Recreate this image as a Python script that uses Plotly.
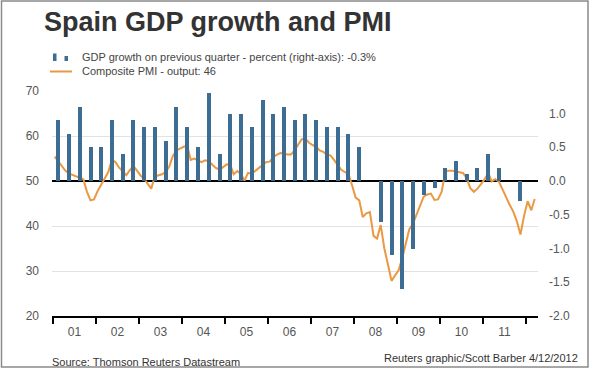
import pandas as pd
import plotly.graph_objects as go

# ---------------- data ----------------
# Quarterly GDP growth on previous quarter (%), 2001 Q1 .. 2011 Q4 (right axis)
gdp_growth = [
    0.9, 0.7, 1.1, 0.5,     # 2001
    0.5, 0.9, 0.4, 0.9,     # 2002
    0.8, 0.8, 0.6, 1.1,     # 2003
    0.8, 0.5, 1.3, 0.4,     # 2004
    1.0, 1.0, 0.8, 1.2,     # 2005
    1.0, 1.1, 0.9, 1.0,     # 2006
    0.9, 0.8, 0.8, 0.7,     # 2007
    0.5, 0.0, -0.6, -1.1,   # 2008
    -1.6, -1.0, -0.2, -0.1, # 2009
    0.2, 0.3, 0.1, 0.2,     # 2010
    0.4, 0.2, 0.0, -0.3,    # 2011
]

# Monthly composite PMI output, Jan 2001 .. Mar 2012 (left axis)
pmi = [
    55.4, 54.3, 53.4, 52.3, 51.7, 51.4, 51.1, 50.8, 50.4, 47.7, 45.7, 45.9,  # 2001
    47.8, 49.2, 50.6, 52.0, 54.7, 54.2, 53.0, 52.2, 51.3, 52.4, 53.3, 52.3,  # 2002
    51.2, 50.4, 49.3, 48.3, 51.0, 51.3, 51.5, 52.0, 53.2, 55.5, 56.8, 57.2,  # 2003
    57.6, 57.8, 54.7, 55.0, 54.6, 54.2, 54.6, 54.4, 53.6, 52.9, 52.5, 53.0,  # 2004
    53.7, 53.6, 51.5, 52.2, 51.6, 50.1, 51.8, 51.6, 52.3, 53.0, 53.6, 54.2,  # 2005
    54.3, 55.3, 55.8, 56.2, 56.1, 55.9, 55.9, 56.8, 58.1, 59.3, 59.4, 58.5,  # 2006
    58.0, 57.6, 56.8, 56.5, 55.8, 55.7, 54.7, 53.6, 52.5, 52.0, 51.5, 49.1,  # 2007
    46.3, 45.7, 42.0, 42.8, 43.1, 37.8, 37.2, 40.2, 35.0, 31.5, 27.8, 29.0,  # 2008
    30.2, 33.0, 36.3, 39.3, 40.5, 42.5, 44.8, 46.5, 47.0, 47.2, 45.8, 45.9,  # 2009
    47.6, 52.2, 52.3, 52.3, 52.1, 52.0, 51.8, 50.6, 48.4, 47.6, 48.3, 49.3,  # 2010
    50.4, 51.8, 49.9, 50.4, 49.9, 48.2, 46.3, 44.7, 43.2, 41.1, 38.1, 42.2,  # 2011
    45.5, 43.5, 46.0,                                                        # 2012
]

year_labels = ["01", "02", "03", "04", "05", "06", "07", "08", "09", "10", "11"]
left_ticks = [20, 30, 40, 50, 60, 70]
left_tick_labels = ["20", "30", "40", "50", "60", "70"]
right_ticks = [-2.0, -1.5, -1.0, -0.5, 0.0, 0.5, 1.0]
right_tick_labels = ["-2.0", "-1.5", "-1.0", "-0.5", "0.0", "0.5", "1.0"]

title_text = "Spain GDP growth and PMI"
gdp_name = "GDP growth on previous quarter - percent (right-axis): -0.3%"
pmi_name = "Composite PMI - output: 46"
source_text = "Source: Thomson Reuters Datastream"
credit_text = "Reuters graphic/Scott Barber 4/12/2012"

# ---------------- derived dates ----------------
quarter_dates = pd.date_range("2001-01-01", periods=len(gdp_growth), freq="QS") + pd.Timedelta(days=45)
month_dates = pd.date_range("2001-01-01", periods=len(pmi), freq="MS") + pd.Timedelta(days=14)
year_starts = pd.date_range("2001-01-01", periods=12, freq="YS")
year_mids = pd.date_range("2001-01-01", periods=len(year_labels), freq="YS") + pd.Timedelta(days=182)

# ---------------- layout geometry (pixels) ----------------
W, H = 590, 370
L, R, T, B = 52, 538, 91, 316


def xp(px):
    return (px - L) / (R - L)


def yp(py):
    return (B - py) / (B - T)


FONT = "Liberation Sans, Arial, sans-serif"
BAR_COLOR = "#3D6D92"
LINE_COLOR = "#EA9842"
TICK_COLOR = "#555555"

fig = go.Figure()

fig.add_trace(go.Bar(
    x=quarter_dates, y=gdp_growth, yaxis="y2", name=gdp_name,
    marker=dict(color=BAR_COLOR, line=dict(width=0)),
    width=34 * 86400000, showlegend=False,
))
fig.add_trace(go.Scatter(
    x=month_dates, y=pmi, yaxis="y", name=pmi_name, mode="lines",
    line=dict(color=LINE_COLOR, width=2), showlegend=False,
))

fig.update_layout(
    width=W, height=H,
    margin=dict(l=L, r=W - R, t=T, b=H - B, pad=0),
    paper_bgcolor="white", plot_bgcolor="white",
    font=dict(family=FONT, color=TICK_COLOR, size=12),
    showlegend=False,
    bargap=0,
    title=dict(
        text=title_text, xref="container", yref="container",
        x=44 / W, xanchor="left", y=1 - 22 / H, yanchor="middle",
        font=dict(family=FONT, size=27, color="#333333", weight="bold"),
    ),
    xaxis=dict(
        type="date",
        range=["2000-12-23", "2012-04-12"],
        tickmode="array", tickvals=year_mids, ticktext=year_labels,
        ticks="outside", ticklen=0, tickcolor="black",
        ticklabelstandoff=4,
        minor=dict(tickvals=year_starts, ticks="outside", ticklen=6,
                   tickwidth=1.5, tickcolor="black", showgrid=False),
        showgrid=False, zeroline=False,
        showline=True, linecolor="black", linewidth=1.5,
        tickfont=dict(size=12, color=TICK_COLOR),
    ),
    yaxis=dict(
        range=[20, 70],
        tickmode="array", tickvals=left_ticks, ticktext=left_tick_labels,
        showgrid=True, gridcolor="#E2E2E2", gridwidth=1,
        zeroline=False, showline=False,
        ticks="", ticklabelstandoff=12,
        tickfont=dict(size=12, color=TICK_COLOR),
    ),
    yaxis2=dict(
        range=[-2.0, 4.0 / 3.0], overlaying="y", side="right",
        tickmode="array", tickvals=right_ticks, ticktext=right_tick_labels,
        showgrid=False, zeroline=True, zerolinecolor="black", zerolinewidth=1.5,
        showline=False, ticks="", ticklabelstandoff=10,
        tickfont=dict(size=12, color=TICK_COLOR),
    ),
)

# legend (manual) -------------------------------------------------------
fig.add_shape(type="rect", xref="paper", yref="paper",
              x0=xp(53), x1=xp(56.5), y0=yp(61), y1=yp(53.5),
              fillcolor=BAR_COLOR, line=dict(width=0))
fig.add_shape(type="rect", xref="paper", yref="paper",
              x0=xp(64.5), x1=xp(68), y0=yp(61), y1=yp(56),
              fillcolor=BAR_COLOR, line=dict(width=0))
fig.add_shape(type="line", xref="paper", yref="paper",
              x0=xp(50), x1=xp(72), y0=yp(71.5), y1=yp(71.5),
              line=dict(color=LINE_COLOR, width=2))
fig.add_annotation(text=gdp_name, xref="paper", yref="paper",
                   x=xp(80), y=yp(57), xanchor="left", yanchor="middle",
                   showarrow=False, font=dict(size=11, color="#444444"))
fig.add_annotation(text=pmi_name, xref="paper", yref="paper",
                   x=xp(80), y=yp(71), xanchor="left", yanchor="middle",
                   showarrow=False, font=dict(size=11, color="#444444"))

# footer ----------------------------------------------------------------
fig.add_annotation(text=source_text, xref="paper", yref="paper",
                   x=xp(50), y=yp(362), xanchor="left", yanchor="middle",
                   showarrow=False, font=dict(size=11, color="#333333"))
fig.add_annotation(text=credit_text, xref="paper", yref="paper",
                   x=xp(580), y=yp(358), xanchor="right", yanchor="middle",
                   showarrow=False, font=dict(size=11, color="#333333"))

# outer frame -----------------------------------------------------------
fig.add_shape(type="rect", xref="paper", yref="paper",
              x0=xp(1.5), x1=xp(588), y0=yp(367), y1=yp(1),
              line=dict(color="#8A8A8A", width=1.5), fillcolor="rgba(0,0,0,0)",
              layer="above")

# remove the default page margin so the 590x370 figure fills the window
fig.write_html("out.html", config={"displayModeBar": False},
               post_script="document.body.style.margin='0';")
